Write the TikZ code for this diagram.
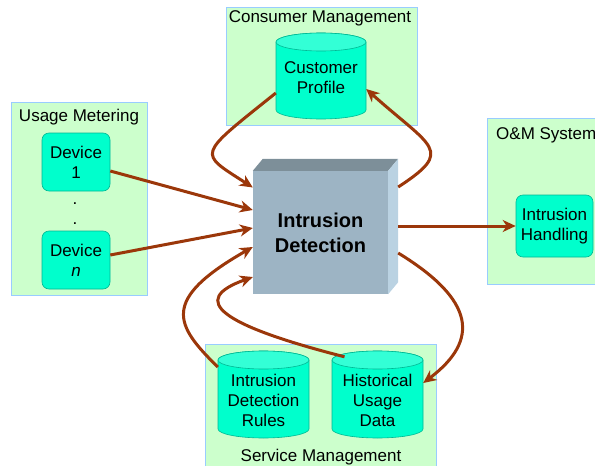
\documentclass[tikz,border=0pt]{standalone}
\usepackage{fontspec}
\setmainfont{Liberation Sans}
\usetikzlibrary{arrows.meta}
\definecolor{grp}{RGB}{204,255,204}
\definecolor{grpline}{RGB}{153,204,255}
\definecolor{aqua}{RGB}{0,255,204}
\definecolor{aquatop}{RGB}{51,255,214}
\definecolor{aqualine}{RGB}{0,184,148}
\definecolor{flow}{RGB}{155,55,10}
\definecolor{frontf}{RGB}{157,180,196}
\definecolor{topf}{RGB}{125,143,153}
\definecolor{sidef}{RGB}{186,210,226}
\newcommand\drawcyl[4]{%
  \path[cylbody] (#1-#4,-#2-9) -- (#1-#4,-#3+9)
    arc[start angle=180,end angle=360,x radius=#4,y radius=9]
    -- (#1+#4,-#2-9)
    arc[start angle=0,end angle=180,x radius=#4,y radius=9] -- cycle;
  \path[cyltop] (#1,-#2-9) ellipse[x radius=#4,y radius=9];
}
\begin{document}
\begin{tikzpicture}[x=1pt,y=1pt,
  group/.style={draw=grpline, fill=grp, line width=0.8pt},
  grouplabel/.style={font=\fontsize{17}{20}\selectfont, inner sep=0pt},
  device/.style={draw=aqualine, fill=aqua, rounded corners=7pt, line width=0.6pt,
    align=center, font=\fontsize{17}{20}\selectfont, inner sep=0pt},
  cyltext/.style={align=center, font=\fontsize{17}{20}\selectfont, inner sep=0pt},
  cylbody/.style={draw=aqualine, fill=aqua, line width=0.6pt},
  cyltop/.style={draw=aqualine, fill=aquatop, line width=0.6pt},
  flowarrow/.style={draw=flow, line width=3pt,
    -{Stealth[length=13pt,width=12pt,inset=4pt]}},
]
\useasboundingbox (0,0) rectangle (595,-466);

% group boxes
\draw[group] (226,-7) rectangle (417,-125);
\draw[group] (11,-102) rectangle (147,-295);
\draw[group] (487,-118) rectangle (610,-284);
\draw[group] (205,-344) rectangle (436,-480);

\node[grouplabel] (lcm) at (320,-18) {Consumer Management};
\node[grouplabel] (lum) at (79,-117) {Usage Metering};
\node[grouplabel, anchor=west] (lom) at (496,-135) {O\&M System};
\node[grouplabel] (lsm) at (321,-457) {Service Management};

% cylinders
\drawcyl{321}{33}{119}{45}
\drawcyl{263.5}{351}{438}{45.5}
\drawcyl{377.5}{351}{438}{45.5}
\node[cyltext, minimum width=90pt, minimum height=86pt] (cp) at (321,-78) {Customer\\Profile};
\node[cyltext, minimum width=91pt, minimum height=86pt] (idr) at (263.5,-400) {Intrusion\\Detection\\Rules};
\node[cyltext, minimum width=91pt, minimum height=86pt] (hud) at (377.5,-400) {Historical\\Usage\\Data};

% devices
\node[device, minimum width=68pt, minimum height=58pt] (d1) at (76,-162) {Device\\1};
\node[device, minimum width=68pt, minimum height=58pt] (dn) at (76,-260) {Device\\\textit{n}};
\node[cyltext, anchor=base] (dot1) at (75,-204) {.};
\node[cyltext, anchor=base] (dot2) at (75,-224) {.};

\node[device, minimum width=77pt, minimum height=62pt] (ih) at (554.5,-226) {Intrusion\\Handling};

% 3D box
\node[font=\bfseries\fontsize{20}{25}\selectfont, align=center, minimum width=135pt,
  minimum height=123pt, inner sep=0pt, fill=frontf] (id) at (320.5,-232.5) {Intrusion\\Detection};
\fill[topf] (id.north west) -- ++(10,12) -- ([shift={(10,12)}]id.north east) -- (id.north east) -- cycle;
\fill[sidef] (id.north east) -- ++(10,12) -- ([shift={(10,12)}]id.south east) -- (id.south east) -- cycle;

% connectors
\draw[flowarrow] ([yshift=-9pt]d1.east) -- ([yshift=22.5pt]id.west);
\draw[flowarrow] ([yshift=5pt]dn.east) -- ([yshift=4.5pt]id.west);
\draw[flowarrow] ([yshift=-15pt]cp.west) .. controls (196,-157) and (198,-152) .. ([yshift=45pt]id.west);
\draw[flowarrow] ([xshift=10pt,yshift=45.5pt]id.east) .. controls (455,-150) and (432,-148) .. ([yshift=-11pt]cp.east);
\draw[flowarrow] ([xshift=10pt,yshift=6.5pt]id.east) -- (ih.west);
\draw[flowarrow] ([xshift=10pt,yshift=-20.5pt]id.east) .. controls (475,-300) and (480,-340) .. ([yshift=17pt]hud.east);
\draw[flowarrow] ([yshift=33pt]idr.west) .. controls (175,-325) and (160,-300) .. ([yshift=-14.5pt]id.west);
\draw[flowarrow] ([xshift=-33pt]hud.north) .. controls (220,-325) and (188,-300) .. ([yshift=-44.5pt]id.west);
\end{tikzpicture}
\end{document}
